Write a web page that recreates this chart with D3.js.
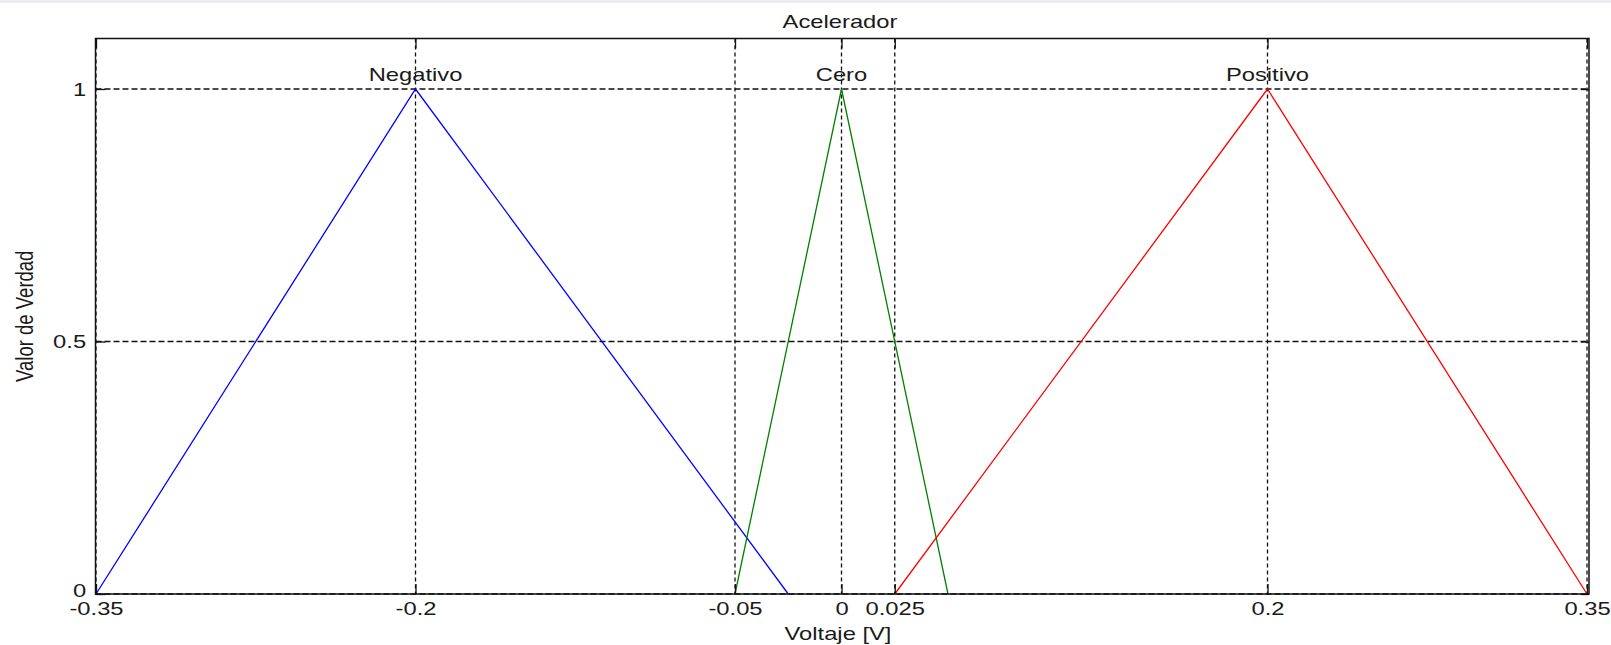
<!DOCTYPE html>
<html>
<head>
<meta charset="utf-8">
<script src="https://cdn.jsdelivr.net/npm/d3@7"></script>
<style>
  html, body { margin: 0; padding: 0; background: #fff; }
  svg { display: block; }
  text { font-family: "Liberation Sans", Arial, sans-serif; fill: #1a1a1a; }
</style>
</head>
<body>
<svg id="chart" width="1611" height="645"></svg>
<script>
// ---- data ----
const chartTitle = "Acelerador";
const xTitle = "Voltaje [V]";
const yTitle = "Valor de Verdad";
const setNames = ["Negativo", "Cero", "Positivo"];
const setColors = ["#0000ff", "#008000", "#ff0000"];
const negativoX = [-0.35, -0.2, -0.025];
const ceroX = [-0.05, 0, 0.05];
const positivoX = [0.025, 0.2, 0.35];
const triY = [0, 1, 0];
const xTickValues = [-0.35, -0.2, -0.05, 0, 0.025, 0.2, 0.35];
const xTickLabels = ["-0.35", "-0.2", "-0.05", "0", "0.025", "0.2", "0.35"];
const yTickValues = [0, 0.5, 1];
const yTickLabels = ["0", "0.5", "1"];

const svg = d3.select("#chart");
const W = 1611, H = 645;

// faint strip at top (screenshot artifact)
svg.append("rect").attr("x", 0).attr("y", 0).attr("width", W).attr("height", 3).attr("fill", "#ececf3");

const x = d3.scaleLinear().domain([-0.35, 0.35]).range([96, 1587]);
const y = d3.scaleLinear().domain([0, 1.1]).range([594, 38.5]);
const pL = 95.5, pR = 1589, pT = 38.5, pB = 594;

const fontSize = 19, sx = 1.25;

function addText(px, py, str, anchor) {
  return svg.append("g").attr("transform", `translate(${px},${py}) scale(${sx},1)`)
    .append("text").attr("text-anchor", anchor || "middle")
    .style("font-size", fontSize + "px").text(str);
}

// grid lines
const grid = svg.append("g").attr("stroke", "#111").attr("stroke-width", 1.3);
grid.selectAll("line.v").data(xTickValues).enter().append("line")
  .attr("x1", d => x(d)).attr("x2", d => x(d))
  .attr("y1", pT).attr("y2", pB)
  .attr("stroke-dasharray", "4,3");
grid.selectAll("line.h").data(yTickValues).enter().append("line")
  .attr("x1", pL).attr("x2", pR)
  .attr("y1", d => y(d)).attr("y2", d => y(d))
  .attr("stroke-dasharray", "6,3");

// series
const series = [negativoX, ceroX, positivoX];
const line = d3.line().x(d => x(d[0])).y(d => y(d[1]));
series.forEach((xs, i) => {
  const pts = xs.map((v, j) => [v, triY[j]]);
  svg.append("path").datum(pts)
    .attr("d", line)
    .attr("fill", "none")
    .attr("stroke", setColors[i])
    .attr("stroke-width", 1.3);
  addText(x(xs[1]), y(1) - 8, setNames[i]);
});

// axes
function styleAxis(g) {
  g.select(".domain").remove();
  g.selectAll(".tick line").attr("stroke", "#111").attr("stroke-width", 1.3);
  g.selectAll(".tick text")
    .style("font-size", fontSize + "px")
    .style("font-family", "'Liberation Sans', Arial, sans-serif")
    .attr("fill", "#1a1a1a")
    .attr("transform", `scale(${sx},1)`);
}
const fmtX = d => xTickLabels[xTickValues.indexOf(d)];
const fmtY = d => yTickLabels[yTickValues.indexOf(d)];

svg.append("g").attr("transform", `translate(0,${pB})`)
  .call(d3.axisBottom(x).tickValues(xTickValues).tickFormat(fmtX).tickSize(-10).tickPadding(8))
  .call(styleAxis);
svg.append("g").attr("transform", `translate(0,${pT})`)
  .call(d3.axisTop(x).tickValues(xTickValues).tickFormat("").tickSize(-10))
  .call(styleAxis);
const yAxisG = svg.append("g").attr("transform", `translate(${pL},0)`)
  .call(d3.axisLeft(y).tickValues(yTickValues).tickFormat(fmtY).tickSize(-10).tickPadding(7.5))
  .call(styleAxis);
yAxisG.selectAll(".tick text").filter(d => d === 0).attr("dy", "0.12em");
svg.append("g").attr("transform", `translate(${pR},0)`)
  .call(d3.axisRight(y).tickValues(yTickValues).tickFormat("").tickSize(-8))
  .call(styleAxis);

// frame
svg.append("rect")
  .attr("x", pL).attr("y", pT)
  .attr("width", pR - pL).attr("height", pB - pT)
  .attr("fill", "none").attr("stroke", "#111").attr("stroke-width", 1.5);

// titles
addText(840, 28, chartTitle);
addText(838, 640, xTitle);
svg.append("text")
  .attr("transform", `translate(33,${(pT + pB) / 2}) rotate(-90) scale(1,${sx})`)
  .attr("text-anchor", "middle")
  .style("font-size", "18.5px")
  .text(yTitle);
</script>
</body>
</html>
